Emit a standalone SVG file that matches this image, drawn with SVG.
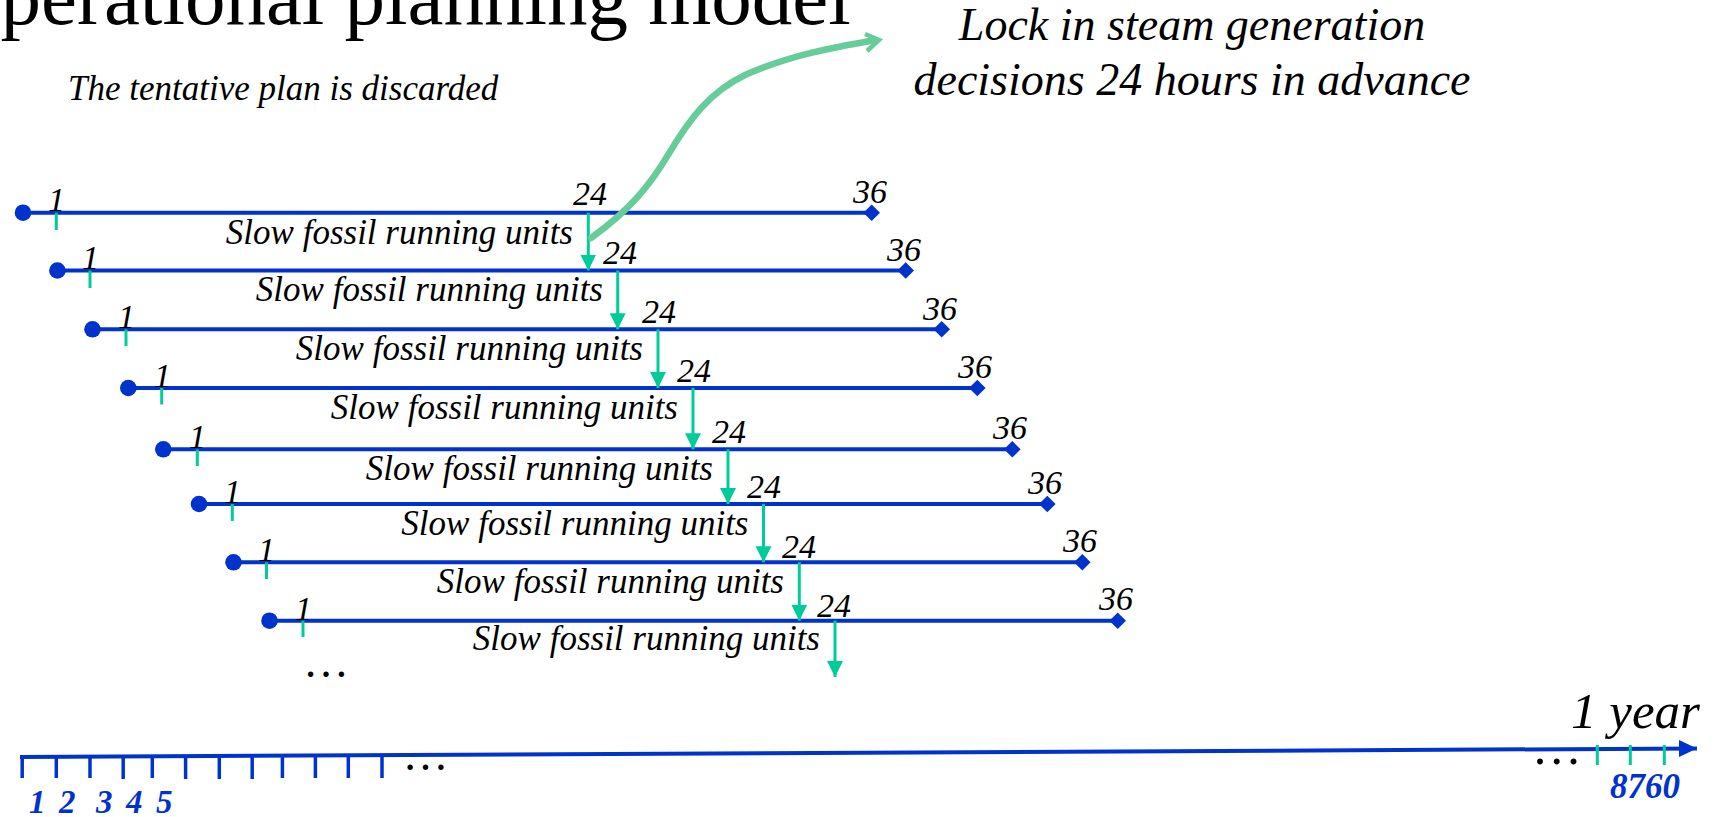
<svg xmlns="http://www.w3.org/2000/svg" width="1725" height="817" viewBox="0 0 1725 817">
<style>
.bg{fill:#ffffff}
.tl{stroke:#0033cc;stroke-width:4;fill:none}
.dot{fill:#0033cc}
.gt{stroke:#00cc99;stroke-width:3;fill:none}
.ga{stroke:#00cc99;stroke-width:3;fill:none;marker-end:url(#gah)}
.t{font-family:"Liberation Serif","Times New Roman",serif;font-style:italic;fill:#000}
.lab{font-size:34px}
.sf{font-size:35px}
.el{font-family:"Liberation Serif","Times New Roman",serif;fill:#000}
.bl{font-family:"Liberation Serif","Times New Roman",serif;font-style:italic;font-weight:bold;fill:#0033cc}
</style>
<defs>
<marker id="gah" markerUnits="userSpaceOnUse" markerWidth="17" markerHeight="17" refX="16" refY="8" orient="auto">
<path d="M0,0 L16,8 L0,16 z" fill="#00cc99"/>
</marker>
<marker id="bah" markerUnits="userSpaceOnUse" markerWidth="20" markerHeight="18" refX="18" refY="8.5" orient="auto">
<path d="M0,0 L18,8.5 L0,17 z" fill="#0033cc"/>
</marker>
</defs>
<rect class="bg" x="0" y="0" width="1725" height="817"/>

<g id="title">
<text x="-58" y="24" font-family="Liberation Serif, Times New Roman, serif" font-size="81" fill="#000">Operational planning model</text>
</g>
<g id="note-discarded">
<text class="t" x="68" y="100" font-size="35">The tentative plan is discarded</text>
</g>
<g id="note-lock">
<text class="t" x="1192" y="40" font-size="46" text-anchor="middle">Lock in steam generation</text>
<text class="t" x="1192" y="95" font-size="46" text-anchor="middle">decisions 24 hours in advance</text>
</g>

<g id="row1">
<line class="tl" x1="23" y1="212.7" x2="871.7" y2="212.7"/>
<circle class="dot" cx="23" cy="212.7" r="8.3"/>
<polygon class="dot" points="871.7,204.4 880,212.7 871.7,221 863.4,212.7"/>
<line class="gt" x1="56.3" y1="212.7" x2="56.3" y2="230"/>
<text class="t lab" x="48" y="211">1</text>
<text class="t lab" x="573" y="205">24</text>
<text class="t lab" x="853" y="203">36</text>
<text class="t sf" x="573" y="244" text-anchor="end">Slow fossil running units</text>
</g>
<g id="row2">
<line class="tl" x1="57.4" y1="270.5" x2="905.7" y2="270.5"/>
<circle class="dot" cx="57.4" cy="270.5" r="8.3"/>
<polygon class="dot" points="905.7,262.2 914,270.5 905.7,278.8 897.4,270.5"/>
<line class="gt" x1="90" y1="270.5" x2="90" y2="288"/>
<text class="t lab" x="82" y="269">1</text>
<text class="t lab" x="603" y="264">24</text>
<text class="t lab" x="887" y="261">36</text>
<text class="t sf" x="603" y="301" text-anchor="end">Slow fossil running units</text>
</g>
<g id="row3">
<line class="tl" x1="92.5" y1="329.3" x2="941.7" y2="329.3"/>
<circle class="dot" cx="92.5" cy="329.3" r="8.3"/>
<polygon class="dot" points="941.7,321 950,329.3 941.7,337.6 933.4,329.3"/>
<line class="gt" x1="126" y1="329.3" x2="126" y2="346"/>
<text class="t lab" x="118" y="328">1</text>
<text class="t lab" x="642" y="323">24</text>
<text class="t lab" x="923" y="320">36</text>
<text class="t sf" x="643" y="360" text-anchor="end">Slow fossil running units</text>
</g>
<g id="row4">
<line class="tl" x1="128.3" y1="388" x2="977.3" y2="388"/>
<circle class="dot" cx="128.3" cy="388" r="8.3"/>
<polygon class="dot" points="977.3,379.7 985.6,388 977.3,396.3 969,388"/>
<line class="gt" x1="161.7" y1="388" x2="161.7" y2="404.5"/>
<text class="t lab" x="154" y="387">1</text>
<text class="t lab" x="677" y="382">24</text>
<text class="t lab" x="958" y="378">36</text>
<text class="t sf" x="678" y="419" text-anchor="end">Slow fossil running units</text>
</g>
<g id="row5">
<line class="tl" x1="163.3" y1="449.3" x2="1012.3" y2="449.3"/>
<circle class="dot" cx="163.3" cy="449.3" r="8.3"/>
<polygon class="dot" points="1012.3,441 1020.6,449.3 1012.3,457.6 1004,449.3"/>
<line class="gt" x1="197.3" y1="449.3" x2="197.3" y2="466"/>
<text class="t lab" x="189" y="448">1</text>
<text class="t lab" x="712" y="443">24</text>
<text class="t lab" x="993" y="439">36</text>
<text class="t sf" x="713" y="480" text-anchor="end">Slow fossil running units</text>
</g>
<g id="row6">
<line class="tl" x1="199" y1="504" x2="1047.3" y2="504"/>
<circle class="dot" cx="199" cy="504" r="8.3"/>
<polygon class="dot" points="1047.3,495.7 1055.6,504 1047.3,512.3 1039,504"/>
<line class="gt" x1="232.3" y1="504" x2="232.3" y2="521"/>
<text class="t lab" x="224" y="503">1</text>
<text class="t lab" x="747" y="498">24</text>
<text class="t lab" x="1028" y="494">36</text>
<text class="t sf" x="748.5" y="535" text-anchor="end">Slow fossil running units</text>
</g>
<g id="row7">
<line class="tl" x1="233.5" y1="562.3" x2="1082.3" y2="562.3"/>
<circle class="dot" cx="233.5" cy="562.3" r="8.3"/>
<polygon class="dot" points="1082.3,554 1090.6,562.3 1082.3,570.6 1074,562.3"/>
<line class="gt" x1="266.5" y1="562.3" x2="266.5" y2="579"/>
<text class="t lab" x="258" y="561">1</text>
<text class="t lab" x="782" y="557.5">24</text>
<text class="t lab" x="1063" y="552">36</text>
<text class="t sf" x="784" y="593" text-anchor="end">Slow fossil running units</text>
</g>
<g id="row8">
<line class="tl" x1="269.5" y1="620.7" x2="1117.7" y2="620.7"/>
<circle class="dot" cx="269.5" cy="620.7" r="8.3"/>
<polygon class="dot" points="1117.7,612.4 1126,620.7 1117.7,629 1109.4,620.7"/>
<line class="gt" x1="303" y1="620.7" x2="303" y2="637"/>
<text class="t lab" x="295" y="619.5">1</text>
<text class="t lab" x="817" y="616.5">24</text>
<text class="t lab" x="1099" y="610">36</text>
<text class="t sf" x="820" y="650" text-anchor="end">Slow fossil running units</text>
<text class="el" x="326" y="677" font-size="46" text-anchor="middle">…</text>
</g>

<g id="connectors">
<line class="ga" x1="588.3" y1="212.7" x2="588.3" y2="270.5"/>
<line class="ga" x1="617.7" y1="270.5" x2="617.7" y2="329.3"/>
<line class="ga" x1="658" y1="329.3" x2="658" y2="388"/>
<line class="ga" x1="693" y1="388" x2="693" y2="449.3"/>
<line class="ga" x1="728" y1="449.3" x2="728" y2="504"/>
<line class="ga" x1="763.5" y1="504" x2="763.5" y2="562.3"/>
<line class="ga" x1="799.3" y1="562.3" x2="799.3" y2="620.7"/>
<line class="ga" x1="835" y1="620.7" x2="835" y2="677"/>
<path d="M591,238 C630,210 650,185 668,155 C690,118 710,92 745,75 C790,55 835,47 876,40" fill="none" stroke="#66cc99" stroke-width="6.5" stroke-linecap="round"/>
<path d="M865,34 L879,40 L867,51" fill="none" stroke="#66cc99" stroke-width="4.5" stroke-linejoin="miter"/>
</g>

<g id="year-axis">
<line x1="20" y1="757" x2="1697" y2="748.5" stroke="#0033cc" stroke-width="4" marker-end="url(#bah)"/>
<g stroke="#0033cc" stroke-width="3.5">
<line x1="22.2" y1="755" x2="22.2" y2="778"/>
<line x1="56.3" y1="756" x2="56.3" y2="778"/>
<line x1="90" y1="756" x2="90" y2="778"/>
<line x1="123.2" y1="756" x2="123.2" y2="779"/>
<line x1="152.3" y1="756" x2="152.3" y2="778"/>
<line x1="185.6" y1="756" x2="185.6" y2="779"/>
<line x1="219.3" y1="756" x2="219.3" y2="779"/>
<line x1="252.2" y1="756" x2="252.2" y2="779"/>
<line x1="282.4" y1="756" x2="282.4" y2="778"/>
<line x1="315.4" y1="755" x2="315.4" y2="778"/>
<line x1="348.3" y1="755" x2="348.3" y2="778"/>
<line x1="382" y1="755" x2="382" y2="778"/>
</g>
<g stroke="#00cc99" stroke-width="3">
<line x1="1597.3" y1="745" x2="1597.3" y2="765"/>
<line x1="1630.3" y1="745" x2="1630.3" y2="765"/>
<line x1="1664.3" y1="745" x2="1664.3" y2="765"/>
</g>
<text class="el" x="425.6" y="770" font-size="46" text-anchor="middle">…</text>
<text class="el" x="1556.7" y="764" font-size="50" text-anchor="middle">…</text>
<text class="t" x="1571" y="728" font-size="51">1 year</text>
<text class="bl" y="813" font-size="33"><tspan x="29">1</tspan><tspan x="59">2</tspan><tspan x="96">3</tspan><tspan x="126">4</tspan><tspan x="156">5</tspan></text>
<text class="bl" x="1610" y="798" font-size="35">8760</text>
</g>
</svg>
